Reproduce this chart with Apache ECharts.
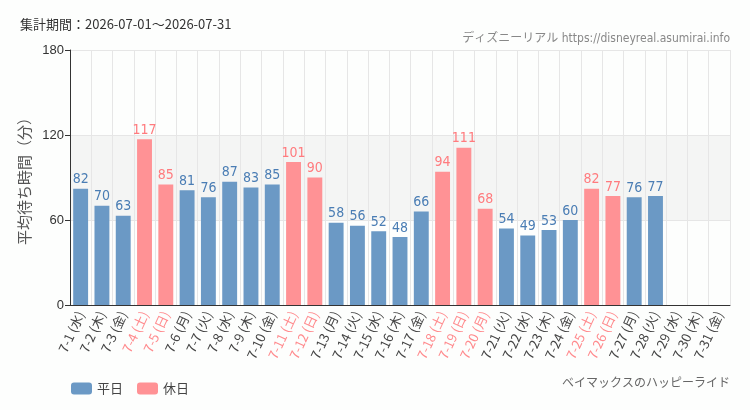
<!DOCTYPE html>
<html>
<head>
<meta charset="utf-8">
<script src="https://cdn.jsdelivr.net/npm/echarts@6/dist/echarts.min.js"></script>
<style>
html, body { margin: 0; padding: 0; background: #fdfefd; }
#main { width: 750px; height: 410px; }
</style>
</head>
<body>
<div id="main"></div>
<script>
// 日付・曜日
var days = ['7-1', '7-2', '7-3', '7-4', '7-5', '7-6', '7-7', '7-8', '7-9', '7-10',
    '7-11', '7-12', '7-13', '7-14', '7-15', '7-16', '7-17', '7-18', '7-19', '7-20',
    '7-21', '7-22', '7-23', '7-24', '7-25', '7-26', '7-27', '7-28', '7-29', '7-30', '7-31'];
var weekdays = ['水', '木', '金', '土', '日', '月', '火', '水', '木', '金',
    '土', '日', '月', '火', '水', '木', '金', '土', '日', '月',
    '火', '水', '木', '金', '土', '日', '月', '火', '水', '木', '金'];
// 休日フラグ (1 = 休日)
var holidays = [0, 0, 0, 1, 1, 0, 0, 0, 0, 0,
    1, 1, 0, 0, 0, 0, 0, 1, 1, 1,
    0, 0, 0, 0, 1, 1, 0, 0, 0, 0, 0];
// 平均待ち時間（分）
var waits = [82, 70, 63, 117, 85, 81, 76, 87, 83, 85,
    101, 90, 58, 56, 52, 48, 66, 94, 111, 68,
    54, 49, 53, 60, 82, 77, 76, 77, null, null, null];
var yTicks = [0, 60, 120, 180];

var BLUE = '#6b99c5';
var PINK = '#ff9295';
var NARROW = '"DejaVu Sans Condensed", "Noto Sans CJK JP", sans-serif';

var categories = days.map(function (d, i) { return d + ' (' + weekdays[i] + ')'; });
var weekdayData = waits.map(function (v, i) { return holidays[i] ? null : v; });
var holidayData = waits.map(function (v, i) { return holidays[i] ? v : null; });

var myChart = echarts.init(document.getElementById('main'), null, {renderer: 'canvas'});

option = {
    backgroundColor: '#fdfefd',
    animation: false,
    title: [
        {
            text: '集計期間：2026-07-01～2026-07-31',
            left: 20, top: 18, padding: 0,
            textStyle: {fontSize: 13, fontWeight: 'normal', color: '#333', fontFamily: 'Noto Sans CJK JP'}
        },
        {
            text: 'ディズニーリアル https://disneyreal.asumirai.info',
            right: 20, top: 33, padding: 0,
            textStyle: {fontSize: 12, fontWeight: 'normal', color: '#888', fontFamily: NARROW}
        },
        {
            text: 'ベイマックスのハッピーライド',
            right: 20, top: 378, padding: 0,
            textStyle: {fontSize: 12, fontWeight: 'normal', color: '#666', fontFamily: NARROW}
        }
    ],
    legend: {
        left: 66, top: 377,
        itemWidth: 21, itemHeight: 12, itemGap: 14,
        textStyle: {fontSize: 13, color: '#444', fontFamily: 'Noto Sans CJK JP'},
        data: ['平日', '休日']
    },
    grid: {left: 70, right: 20, top: 50, bottom: 105},
    xAxis: {
        type: 'category',
        data: categories,
        axisLine: {lineStyle: {color: '#333'}},
        axisTick: {alignWithLabel: true, length: 4, lineStyle: {color: '#333'}},
        splitLine: {show: true, lineStyle: {color: '#e6e6e6'}},
        axisLabel: {
            interval: 0,
            rotate: 65,
            fontSize: 13,
            margin: 7,
            fontFamily: 'Noto Sans CJK JP',
            color: function (value, index) {
                return holidays[index] ? '#ff8a8d' : '#444';
            }
        }
    },
    yAxis: {
        type: 'value',
        min: yTicks[0],
        max: yTicks[yTicks.length - 1],
        interval: 60,
        name: '平均待ち時間（分）',
        nameLocation: 'middle',
        nameGap: 33,
        nameTextStyle: {fontSize: 15, color: '#555', fontFamily: 'Noto Sans CJK JP'},
        axisLine: {show: true, lineStyle: {color: '#333'}},
        axisTick: {show: true, length: 5, lineStyle: {color: '#333'}},
        axisLabel: {fontSize: 13, color: '#333', margin: 6},
        splitLine: {lineStyle: {color: '#e6e6e6'}},
        splitArea: {show: true, areaStyle: {color: ['rgba(0,0,0,0)', '#f4f5f4', 'rgba(0,0,0,0)']}}
    },
    series: [
        {
            name: '平日',
            type: 'bar',
            data: weekdayData,
            barWidth: '70%',
            barGap: '-100%',
            itemStyle: {color: BLUE},
            label: {
                show: true, position: 'top', distance: 2,
                fontSize: 14, color: '#4a7db4',
                fontFamily: NARROW
            }
        },
        {
            name: '休日',
            type: 'bar',
            data: holidayData,
            barWidth: '70%',
            itemStyle: {color: PINK},
            label: {
                show: true, position: 'top', distance: 2,
                fontSize: 14, color: '#ff7b7e',
                fontFamily: NARROW
            }
        }
    ]
};

myChart.setOption(option);
</script>
</body>
</html>
